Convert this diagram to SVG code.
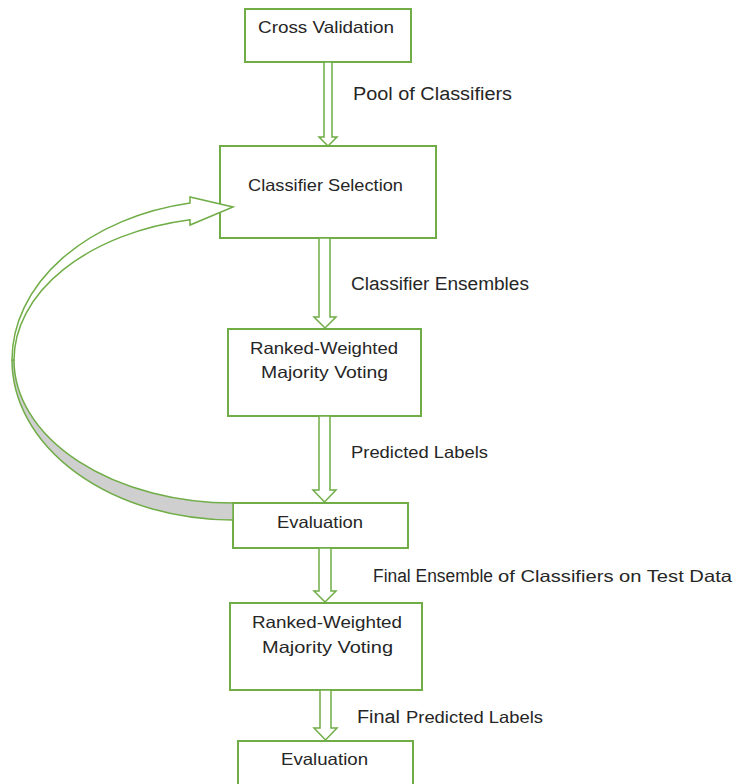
<svg xmlns="http://www.w3.org/2000/svg" width="737" height="784" viewBox="0 0 737 784">
<style>
.box{fill:#fff;stroke:#70AD47;stroke-width:2}
.arr{fill:#fff;stroke:#70AD47;stroke-width:1.5;stroke-linejoin:miter}
.t{font-family:"Liberation Sans",Arial,sans-serif;font-size:18px;fill:#262626}
.s{font-family:"Liberation Sans",Arial,sans-serif;font-size:16.5px;fill:#262626}
</style>
<rect width="737" height="784" fill="#fff"/>
<g id="cross-validation">
  <rect class="box" x="245" y="9" width="166" height="53"/>
  <text class="s" x="258" y="33" textLength="136" lengthAdjust="spacingAndGlyphs">Cross Validation</text>
</g>
<g id="classifier-selection">
  <rect class="box" x="220" y="146" width="216" height="92"/>
  <text class="s" x="248" y="191" textLength="155" lengthAdjust="spacingAndGlyphs">Classifier Selection</text>
</g>
<g id="rwmv-1">
  <rect class="box" x="228" y="329" width="193" height="87"/>
  <text class="s" x="250" y="354" textLength="148" lengthAdjust="spacingAndGlyphs">Ranked-Weighted</text>
  <text class="s" x="261" y="378" textLength="127" lengthAdjust="spacingAndGlyphs">Majority Voting</text>
</g>
<g id="evaluation-1">
  <rect class="box" x="233" y="503" width="175" height="45"/>
  <text class="s" x="277" y="528" textLength="86" lengthAdjust="spacingAndGlyphs">Evaluation</text>
</g>
<g id="rwmv-2">
  <rect class="box" x="230" y="603" width="192" height="87"/>
  <text class="s" x="252" y="628" textLength="150" lengthAdjust="spacingAndGlyphs">Ranked-Weighted</text>
  <text class="s" x="262" y="653" textLength="131" lengthAdjust="spacingAndGlyphs">Majority Voting</text>
</g>
<g id="evaluation-2">
  <rect class="box" x="238" y="741" width="175" height="50"/>
  <text class="s" x="281" y="765" textLength="87" lengthAdjust="spacingAndGlyphs">Evaluation</text>
</g>
<g id="connectors">
  <path class="arr" d="M324,62 L332,62 L332,137 L337,137 L328,146 L319,137 L324,137 Z"/>
  <path class="arr" d="M319,238 L330,238 L330,317 L336,317 L325,328 L314,317 L319,317 Z"/>
  <path class="arr" d="M319,416 L330,416 L330,490 L336,490 L324.5,502 L313,490 L319,490 Z"/>
  <path class="arr" d="M319,548 L331,548 L331,591 L336,591 L325,602 L314,591 L319,591 Z"/>
  <path class="arr" d="M320,690 L331,690 L331,728 L337,728 L325.5,740 L314,728 L320,728 Z"/>
  <g id="loop">
    <path d="M233,520 A221,160 0 0 1 12,360 L14,360 A219,143 0 0 0 233,503 Z" fill="#CFCFCF" stroke="#70AD47" stroke-width="1.5" stroke-linejoin="round"/>
    <path d="M12,360 A221,160 0 0 1 190,203 L190,197 L233,207 L190,225 L190,219.8 A219,143 0 0 0 14,360 Z" fill="#fff" stroke="#70AD47" stroke-width="1.5" stroke-linejoin="miter"/>
  </g>
  <text class="t" x="353" y="100" textLength="159" lengthAdjust="spacingAndGlyphs">Pool of Classifiers</text>
  <text class="t" x="351" y="290" textLength="178" lengthAdjust="spacingAndGlyphs">Classifier Ensembles</text>
  <text class="s" x="351" y="458" textLength="137" lengthAdjust="spacingAndGlyphs">Predicted Labels</text>
  <text class="t" x="373" y="582" textLength="120" lengthAdjust="spacingAndGlyphs">Final Ensemble</text>
  <text class="s" x="498" y="582" textLength="234" lengthAdjust="spacingAndGlyphs">of Classifiers on Test Data</text>
  <text class="t" x="357" y="723" textLength="43" lengthAdjust="spacingAndGlyphs">Final</text>
  <text class="s" x="406" y="723" textLength="137" lengthAdjust="spacingAndGlyphs">Predicted Labels</text>
</g>
</svg>
